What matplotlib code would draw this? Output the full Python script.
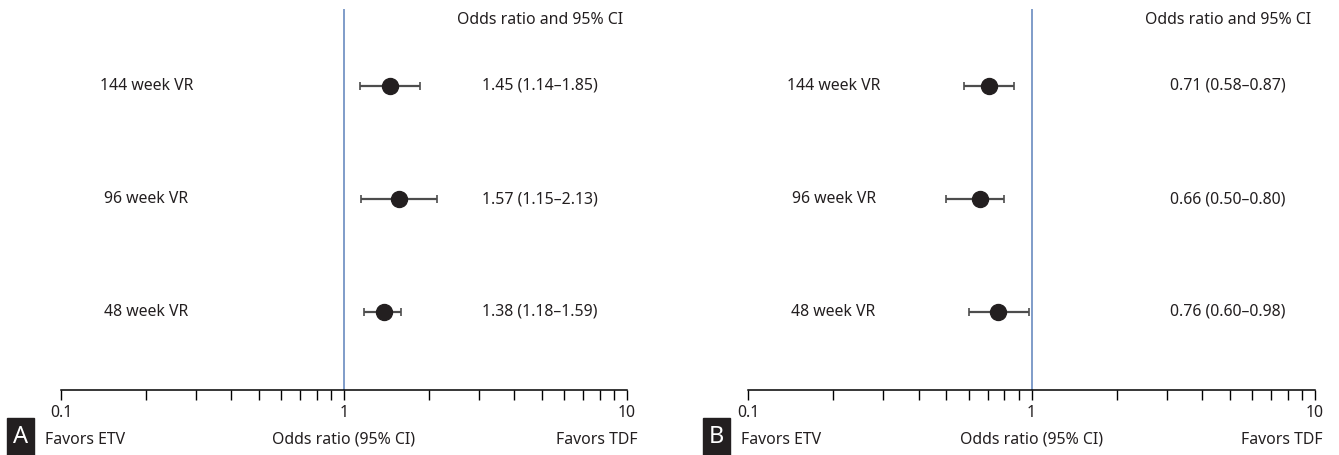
import matplotlib.pyplot as plt
import matplotlib.transforms as mtransforms
from matplotlib.patches import Rectangle
import numpy as np

plt.rcParams['font.family'] = ['Noto Sans', 'DejaVu Sans']

# rows from bottom to top
labels = ['48 week VR', '96 week VR', '144 week VR']

# panel A
or_a = [1.38, 1.57, 1.45]
lo_a = [1.18, 1.15, 1.14]
hi_a = [1.59, 2.13, 1.85]

# panel B
or_b = [0.76, 0.66, 0.71]
lo_b = [0.60, 0.50, 0.58]
hi_b = [0.98, 0.80, 0.87]

panel_names = ['A', 'B']
txt_col = '#231f20'
fs = 11.4
W, H = 1339, 455


def forest(ax, ors, los, his, name, left_off, right_off, box_x):
    y = np.arange(1, len(ors) + 1)
    ors = np.array(ors)
    lo = ors - np.array(los)
    hi = np.array(his) - ors
    ax.set_xscale('log')
    ax.set_xlim(0.1, 10)
    ax.set_ylim(1 - 78 / 113, 3 + 86 / 113)

    ax.axvline(1, ymin=0, ymax=380 / 390, color='#7f9cc9', lw=1.4, zorder=1)
    ax.errorbar(ors, y, xerr=[lo, hi], fmt='none', ecolor='#4d4d4d',
                elinewidth=1.6, capsize=3, capthick=1.2, zorder=2)
    ax.plot(ors, y, 'o', color=txt_col, markersize=11.5, zorder=3)

    tr = mtransforms.blended_transform_factory(ax.transAxes, ax.transData)
    for yi, lab, o, l, h in zip(y, labels, ors, los, his):
        ax.text(0.151, yi, lab, transform=tr, ha='center', va='center',
                fontsize=fs, color=txt_col)
        ax.text(0.846, yi, f'{o:.2f} ({l:.2f}–{h:.2f})', transform=tr,
                ha='center', va='center', fontsize=fs, color=txt_col)
    ax.text(0.846, 0.949, 'Odds ratio and 95% CI', transform=ax.transAxes,
            ha='center', va='center', fontsize=fs, color=txt_col)

    for s in ['top', 'right', 'left']:
        ax.spines[s].set_visible(False)
    ax.spines['bottom'].set_linewidth(1.1)
    ax.set_yticks([])
    ax.set_xticks([0.1, 1, 10])
    ax.set_xticklabels(['0.1', '1', '10'])
    ax.xaxis.set_minor_locator(plt.matplotlib.ticker.LogLocator(base=10, subs=np.arange(2, 10)))
    ax.xaxis.set_minor_formatter(plt.NullFormatter())
    ax.tick_params(axis='x', which='both', length=7, width=1.0, direction='out',
                   labelsize=fs, labelcolor=txt_col, pad=4)

    bx = mtransforms.blended_transform_factory(ax.transData, ax.transAxes)
    ax.text(left_off, -0.128, 'Favors ETV', transform=ax.transAxes,
            ha='left', va='center', fontsize=fs, color=txt_col)
    ax.text(1, -0.128, 'Odds ratio (95% CI)', transform=bx,
            ha='center', va='center', fontsize=fs, color=txt_col)
    ax.text(right_off, -0.128, 'Favors TDF', transform=ax.transAxes,
            ha='right', va='center', fontsize=fs, color=txt_col)

    fig = ax.figure
    fig.patches.append(Rectangle((box_x / W, 0), 27 / W, 37 / H,
                                 transform=fig.transFigure, color='#231f20'))
    fig.text((box_x + 13.5) / W, 18 / H, name, ha='center', va='center',
             color='white', fontsize=17, fontweight='bold')


fig = plt.figure(figsize=(W / 100, H / 100), dpi=100)
ax_a = fig.add_axes([61 / W, 65 / H, 566 / W, 390 / H])
ax_b = fig.add_axes([748 / W, 65 / H, 567 / W, 390 / H])

forest(ax_a, or_a, lo_a, hi_a, panel_names[0], -0.028, 1.018, 7)
forest(ax_b, or_b, lo_b, hi_b, panel_names[1], -0.012, 1.014, 703)

fig.savefig('out.png', dpi=100)
